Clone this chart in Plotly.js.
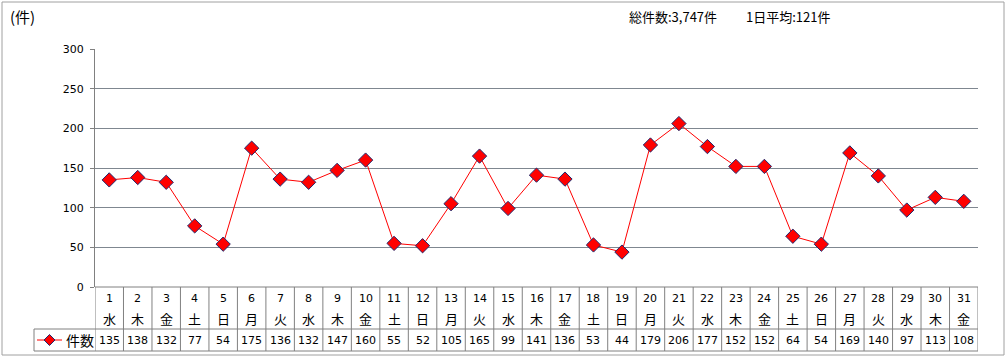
<!DOCTYPE html>
<html><head><meta charset="utf-8">
<script src="https://cdn.plot.ly/plotly-3.0.1.min.js"></script>
<style>html,body{margin:0;padding:0;background:#fff}#c{width:1006px;height:358px}</style>
</head><body><div id="c"></div>
<script>
const days = ['1','2','3','4','5','6','7','8','9','10','11','12','13','14','15','16','17','18','19','20','21','22','23','24','25','26','27','28','29','30','31'];
const weekdays = ['水','木','金','土','日','月','火','水','木','金','土','日','月','火','水','木','金','土','日','月','火','水','木','金','土','日','月','火','水','木','金'];
const counts = [135,138,132,77,54,175,136,132,147,160,55,52,105,165,99,141,136,53,44,179,206,177,152,152,64,54,169,140,97,113,108];
const seriesName = '件数';
const yTicks = [0,50,100,150,200,250,300];

const W = 1006, H = 358, L = 95, R = 28, T = 49, B = 71;
const pw = W - L - R, ph = H - T - B;
const px = x => (x - L) / pw;          // pixel -> paper x
const py = y => (H - B - y) / ph;      // pixel -> paper y

const total = counts.reduce((a,b)=>a+b,0);
const avg = Math.round(total / counts.length);

const numFont = {family:'DejaVu Sans, Noto Sans CJK JP', size:11, color:'#000'};
const jpFont = {family:'Noto Sans CJK JP, DejaVu Sans', size:13, color:'#000'};
const lineCol = '#808080';

const x = days.map((d,i)=>i);

const trace = {
  x: x, y: counts, type:'scatter', mode:'lines+markers', name: seriesName,
  line:{color:'#ff0000', width:1},
  marker:{symbol:'diamond', size:11, color:'#ff0000', line:{color:'#1f2a6e', width:1}},
  hoverinfo:'skip'
};

const annotations = [];
days.forEach((d,i)=>{
  annotations.push({x:i, y:py(298), xref:'x', yref:'paper', text:d, showarrow:false, font:numFont, xanchor:'center', yanchor:'middle'});
  annotations.push({x:i, y:py(318), xref:'x', yref:'paper', text:weekdays[i], showarrow:false, font:jpFont, xanchor:'center', yanchor:'middle'});
  annotations.push({x:i, y:py(340), xref:'x', yref:'paper', text:String(counts[i]), showarrow:false, font:numFont, xanchor:'center', yanchor:'middle'});
});
annotations.push({x:px(8), y:py(16), xref:'paper', yref:'paper', text:'(件)', showarrow:false, font:{family:'Noto Sans CJK JP, DejaVu Sans', size:15, color:'#000'}, xanchor:'left', yanchor:'middle'});
annotations.push({x:px(627), y:py(16), xref:'paper', yref:'paper',
  text:'総件数:' + total.toLocaleString('en-US') + '件\u3000\u3000 1日平均:' + avg + '件',
  showarrow:false, font:{family:'Noto Sans CJK JP, DejaVu Sans', size:13, color:'#000'}, xanchor:'left', yanchor:'middle'});
// legend cell content
annotations.push({x:px(64), y:py(340), xref:'paper', yref:'paper', text:seriesName, showarrow:false, font:{family:'Noto Sans CJK JP, DejaVu Sans', size:14, color:'#000'}, xanchor:'left', yanchor:'middle'});

const shapes = [];
const hl = (x0,x1,y)=>shapes.push({type:'line', xref:'paper', yref:'paper', x0:px(x0), x1:px(x1), y0:py(y), y1:py(y), line:{color:lineCol, width:1}});
hl(34, 978, 329);
hl(34, 978, 351);
hl(95, 978, 287);
// vertical table lines
for (let i=0;i<=days.length;i++){
  shapes.push({type:'line', xref:'x', yref:'paper', x0:i-0.5, x1:i-0.5, y0:py(287), y1:py(351), line:{color:lineCol, width:1}});
}
shapes.push({type:'line', xref:'paper', yref:'paper', x0:px(34), x1:px(34), y0:py(329), y1:py(351), line:{color:lineCol, width:1}});
// legend sample in table cell
shapes.push({type:'line', xref:'paper', yref:'paper', x0:px(37), x1:px(62), y0:py(340), y1:py(340), line:{color:'#ff0000', width:1}});
shapes.push({type:'path', xref:'paper', yref:'paper',
  path:'M '+px(49.5)+' '+py(334.5)+' L '+px(55)+' '+py(340)+' L '+px(49.5)+' '+py(345.5)+' L '+px(44)+' '+py(340)+' Z',
  fillcolor:'#ff0000', line:{color:'#1f2a6e', width:1}});
// outer chart border
shapes.push({type:'rect', xref:'paper', yref:'paper', x0:px(2), x1:px(1004), y0:py(2), y1:py(355), line:{color:'#a0a0a0', width:1}, fillcolor:'rgba(0,0,0,0)'});

const layout = {
  width:W, height:H, margin:{l:L, r:R, t:T, b:B},
  paper_bgcolor:'#fff', plot_bgcolor:'#fff', showlegend:false,
  xaxis:{range:[-0.5, days.length-0.5], showticklabels:false, showgrid:false, zeroline:false, showline:false, ticks:'', fixedrange:true},
  yaxis:{range:[0,300], tickvals:yTicks, ticktext:yTicks.map(String), showgrid:true, gridcolor:'#7f8790', gridwidth:1,
         zeroline:false, showline:true, linecolor:lineCol, linewidth:1, ticks:'outside', ticklen:4, tickcolor:lineCol,
         tickfont:numFont, ticklabelstandoff:4, fixedrange:true},
  annotations:annotations, shapes:shapes
};
Plotly.newPlot('c', [trace], layout, {displayModeBar:false, staticPlot:true});
</script></body></html>
